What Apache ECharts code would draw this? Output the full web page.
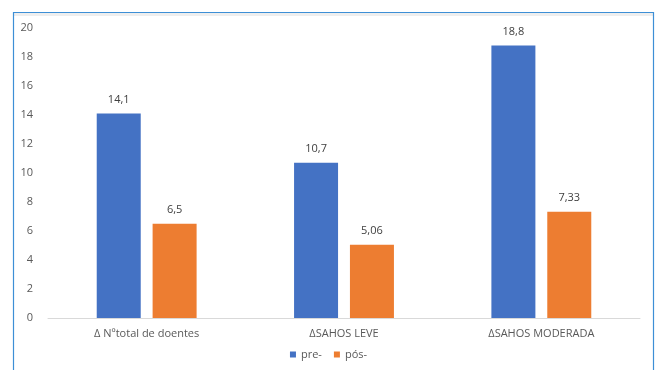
<!DOCTYPE html>
<html><head><meta charset="utf-8">
<script src="https://cdn.jsdelivr.net/npm/echarts@6/dist/echarts.min.js"></script>
<style>html,body{margin:0;padding:0;background:#fff}#c{width:657px;height:370px}</style>
</head><body><div id="c"></div>
<script>
const categories = ['\u0394 N\u00batotal de doentes', '\u0394SAHOS LEVE', '\u0394SAHOS MODERADA'];
const preValues = [14.1, 10.7, 18.8];
const posValues = [6.5, 5.06, 7.33];
const preLabels = ['14,1', '10,7', '18,8'];
const posLabels = ['6,5', '5,06', '7,33'];
const seriesNames = ['pre-', 'pós-'];

const chart = echarts.init(document.getElementById('c'), null, {renderer: 'canvas'});
const font = '"Open Sans", "Noto Sans", sans-serif';
chart.setOption({
  animation: false,
  backgroundColor: '#fff',
  graphic: [
    {type: 'rect', shape: {x: 13.5, y: 12.5, width: 640, height: 370}, style: {fill: 'none', stroke: '#3d8fd6', lineWidth: 1.2}, z: 10},
    {type: 'rect', shape: {x: 14, y: 13, width: 639, height: 3}, style: {fill: '#eeeeee'}, z: 9}
  ],
  grid: {left: 48, right: 17, top: 28, bottom: 52, containLabel: false},
  legend: {
    data: seriesNames, bottom: 5, left: 'center', itemWidth: 6, itemHeight: 6, itemGap: 12,
    icon: 'rect', textStyle: {color: '#595959', fontSize: 11, fontFamily: font}
  },
  xAxis: {
    type: 'category', data: categories,
    axisLine: {lineStyle: {color: '#d9d9d9'}}, axisTick: {show: false},
    axisLabel: {color: '#595959', fontSize: 11, fontFamily: font, margin: 10}
  },
  yAxis: {
    type: 'value', min: 0, max: 20, interval: 2,
    axisLine: {show: false}, axisTick: {show: false}, splitLine: {show: false},
    axisLabel: {color: '#595959', fontSize: 11, fontFamily: font, margin: 15}
  },
  series: [
    {name: seriesNames[0], type: 'bar', data: preValues, barWidth: 44, barGap: '27%',
     itemStyle: {color: '#4472c4'},
     label: {show: true, position: 'top', distance: 8, color: '#404040', fontSize: 11, fontFamily: font,
       formatter: p => preLabels[p.dataIndex]}},
    {name: seriesNames[1], type: 'bar', data: posValues, barWidth: 44,
     itemStyle: {color: '#ed7d31'},
     label: {show: true, position: 'top', distance: 8, color: '#404040', fontSize: 11, fontFamily: font,
       formatter: p => posLabels[p.dataIndex]}}
  ]
});
</script></body></html>
